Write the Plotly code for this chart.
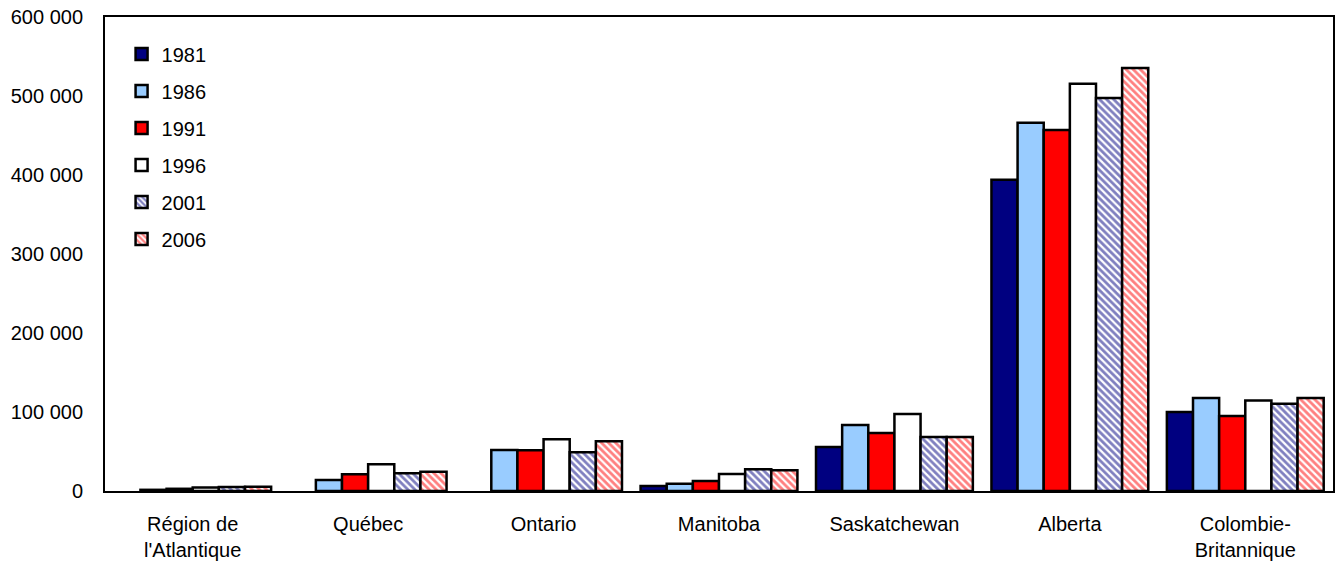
import plotly.graph_objects as go

# Regions (categories on the x axis), two-line labels
regions = ["Région de<br>l'Atlantique", "Québec", "Ontario", "Manitoba",
           "Saskatchewan", "Alberta", "Colombie-<br>Britannique"]

# Census years shown as series
years = ["1981", "1986", "1991", "1996", "2001", "2006"]

# Values per year, one entry per region (None = no value)
v1981 = [None, None, None, 6300, 55700, 394000, 100000]
v1986 = [1500, 14000, 52000, 9200, 83500, 466000, 117700]
v1991 = [2800, 21100, 51500, 12700, 73400, 457000, 95000]
v1996 = [4500, 33800, 65400, 21500, 97500, 515500, 114500]
v2001 = [5000, 22400, 49000, 27500, 68400, 497500, 110500]
v2006 = [5500, 24400, 63000, 26200, 68400, 535500, 117700]

series = [v1981, v1986, v1991, v1996, v2001, v2006]

# Appearance of each series
styles = [
    dict(color="#000080"),
    dict(color="#99CCFF"),
    dict(color="#FF0000"),
    dict(color="#FFFFFF"),
    dict(color="#FFFFFF", pattern=dict(shape="\\", fgcolor="#000080", bgcolor="#FFFFFF",
                                       size=5, solidity=0.55, fillmode="overlay")),
    dict(color="#FFFFFF", pattern=dict(shape="\\", fgcolor="#FF0000", bgcolor="#FFFFFF",
                                       size=5, solidity=0.55, fillmode="overlay")),
]

FONT = "Liberation Sans, Arial, Helvetica, sans-serif"

fig = go.Figure()
for year, vals, st in zip(years, series, styles):
    marker = dict(color=st["color"], line=dict(color="#000000", width=2.5))
    if "pattern" in st:
        marker["pattern"] = st["pattern"]
    fig.add_trace(go.Bar(
        name=year, x=regions, y=vals, marker=marker,
        legendgroup=year,
    ))

fig.update_layout(
    width=1336, height=565,
    margin=dict(l=105, r=1, t=17, b=74),
    paper_bgcolor="white", plot_bgcolor="white",
    barmode="group", bargap=0.106, bargroupgap=0,
    separators=". ",
    font=dict(family=FONT, size=20, color="#000000"),
    showlegend=True,
    legend=dict(
        x=0.0135, y=0.963, xanchor="left", yanchor="top",
        bgcolor="rgba(0,0,0,0)", borderwidth=0,
        font=dict(family=FONT, size=20, color="#000000"),
        tracegroupgap=8, traceorder="grouped",
    ),
)

fig.update_xaxes(
    showline=True, linecolor="#000000", linewidth=2, mirror=True,
    showgrid=False, ticks="", ticklabelstandoff=14,
    tickfont=dict(family=FONT, size=20, color="#000000"),
)
fig.update_yaxes(
    range=[0, 600000], dtick=100000, tickformat=",d",
    showline=True, linecolor="#000000", linewidth=2, mirror=True,
    showgrid=False, ticks="", ticklabelstandoff=16, zeroline=False,
    tickfont=dict(family=FONT, size=20, color="#000000"),
)

fig.write_html("out.html")
